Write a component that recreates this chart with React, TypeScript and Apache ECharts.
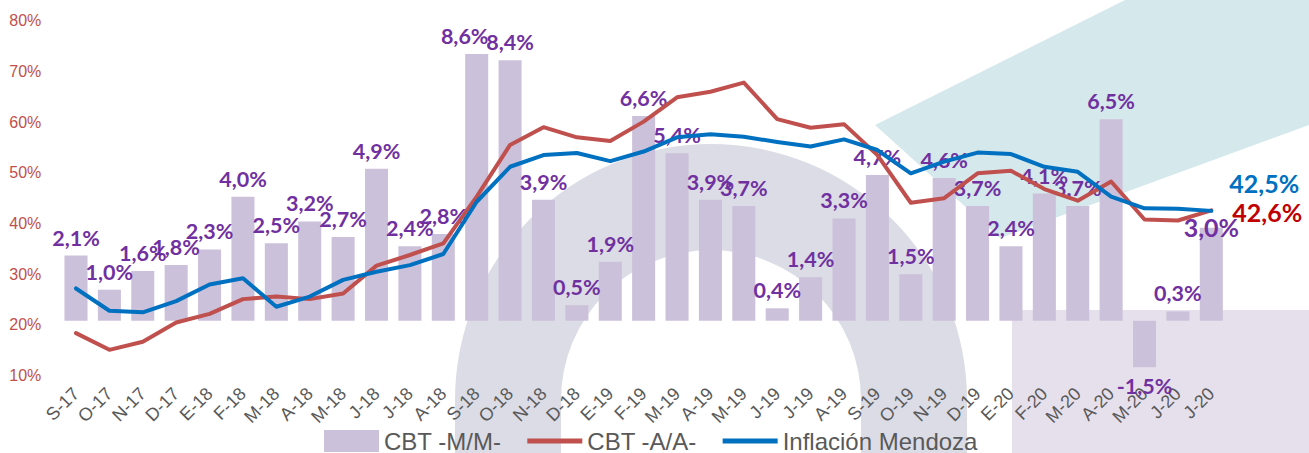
import React, { useEffect, useRef } from "react";
import * as echarts from "echarts";

const categories = ["S-17","O-17","N-17","D-17","E-18","F-18","M-18","A-18","M-18","J-18","J-18","A-18","S-18","O-18","N-18","D-18","E-19","F-19","M-19","A-19","M-19","J-19","J-19","A-19","S-19","O-19","N-19","D-19","E-20","F-20","M-20","A-20","M-20","J-20","J-20"];
const cbtMM = [2.1,1.0,1.6,1.8,2.3,4.0,2.5,3.2,2.7,4.9,2.4,2.8,8.6,8.4,3.9,0.5,1.9,6.6,5.4,3.9,3.7,0.4,1.4,3.3,4.7,1.5,4.6,3.7,2.4,4.1,3.7,6.5,-1.5,0.3,3.0];
const cbtAA = [18.4,15.1,16.7,20.5,22.2,25.1,25.6,25.1,26.2,31.7,33.8,36.1,45.3,55.5,59.0,57.0,56.3,60.1,64.9,66.0,67.8,60.6,58.9,59.6,53.5,44.1,45.0,49.9,50.4,46.8,44.5,48.3,40.8,40.6,42.6];
const inflacion = [27.2,22.8,22.5,24.7,28.0,29.2,23.6,25.6,28.9,30.5,31.8,34.0,44.3,51.2,53.5,53.9,52.3,54.2,57.0,57.6,57.1,56.1,55.2,56.6,54.5,49.9,52.2,54.0,53.7,51.2,50.2,45.3,43.0,42.9,42.5];
const leftTicks = [10, 80, 10];

const fmt = (v: number) => v.toFixed(1).replace(".", ",") + "%";

export default function App() {
  const ref = useRef<HTMLDivElement>(null);
  useEffect(() => {
    if (!ref.current) return;
    const chart = echarts.init(ref.current, null, { renderer: "svg" });
    const last = cbtMM.length - 1;
    const barData = cbtMM.map((v, i) => {
      if (i === last) {
        return {
          value: v,
          label: { position: "top", distance: 0, offset: [0, 12], fontSize: 25 },
        };
      }
      if (i === 12) return { value: v, label: { offset: [-12, 0] } };
      if (v < 0) return { value: v, label: { position: "bottom", distance: 8 } };
      return v;
    });
    const endLabelBase = {
      show: true,
      fontFamily: "Lato",
      fontWeight: "bold",
      fontSize: 25,
    };
    const lineIcon = "path://M0,0H55V5H0Z";
    chart.setOption({
      animation: false,
      graphic: {
        elements: [
          {
            type: "sector",
            z: 0,
            shape: { cx: 711, cy: 400, r0: 150, r: 256, startAngle: Math.PI, endAngle: 2 * Math.PI },
            style: { fill: "#DBDCE5" },
          },
          { type: "rect", z: 0, shape: { x: 455, y: 399, width: 106, height: 60 }, style: { fill: "#DBDCE5" } },
          { type: "rect", z: 0, shape: { x: 861, y: 399, width: 106, height: 60 }, style: { fill: "#DBDCE5" } },
          {
            type: "polygon",
            z: 0,
            shape: { points: [[875, 125], [1125, 0], [1309, 0], [1309, 125], [1000, 238]] },
            style: { fill: "#D5E8EC" },
          },
          { type: "rect", z: 0, shape: { x: 1012, y: 310, width: 297, height: 143 }, style: { fill: "#E6E0EC" } },
        ],
      },
      grid: { left: 59.3, right: 81, top: 20.7, bottom: 77.3, containLabel: false },
      legend: {
        left: 319,
        top: 424,
        itemWidth: 55,
        itemHeight: 22,
        itemGap: 26,
        textStyle: { fontFamily: "Liberation Sans", fontSize: 24, color: "#595959" },
        data: [
          { name: "CBT -M/M-", icon: "rect" },
          { name: "CBT -A/A-", icon: lineIcon },
          { name: "Inflación Mendoza", icon: lineIcon },
        ],
      },
      xAxis: {
        type: "category",
        data: categories,
        boundaryGap: true,
        axisLine: { show: false },
        axisTick: { show: false },
        axisLabel: {
          rotate: 45,
          interval: 0,
          margin: 15,
          fontFamily: "Liberation Sans",
          fontSize: 18,
          color: "#595959",
        },
      },
      yAxis: [
        {
          type: "value",
          min: leftTicks[0],
          max: leftTicks[1],
          interval: leftTicks[2],
          splitLine: { show: false },
          axisLine: { show: false },
          axisTick: { show: false },
          axisLabel: {
            formatter: "{value}%",
            margin: 18,
            fontFamily: "Liberation Sans",
            fontSize: 16,
            color: "#C0504D",
          },
        },
        {
          type: "value",
          min: -1.774,
          max: 9.677,
          show: false,
          splitLine: { show: false },
        },
      ],
      series: [
        {
          name: "CBT -M/M-",
          type: "bar",
          yAxisIndex: 1,
          barWidth: "69%",
          data: barData,
          itemStyle: { color: "#CCC1DA" },
          label: {
            show: true,
            position: "top",
            distance: 7,
            formatter: (p: any) => fmt(p.value),
            color: "#7030A0",
            fontFamily: "Lato",
            fontWeight: "bold",
            fontSize: 21.5,
          },
          z: 2,
        },
        {
          name: "CBT -A/A-",
          type: "line",
          yAxisIndex: 0,
          data: cbtAA,
          symbol: "none",
          showSymbol: false,
          lineStyle: { color: "#C0504D", width: 4, cap: "round", join: "round" },
          itemStyle: { color: "#C0504D" },
          endLabel: {
            ...endLabelBase,
            color: "#C00000",
            distance: 21,
            offset: [0, 2],
            formatter: () => fmt(cbtAA[last]),
          },
          z: 3,
        },
        {
          name: "Inflación Mendoza",
          type: "line",
          yAxisIndex: 0,
          data: inflacion,
          symbol: "none",
          showSymbol: false,
          lineStyle: { color: "#0070C0", width: 4, cap: "round", join: "round" },
          itemStyle: { color: "#0070C0" },
          endLabel: {
            ...endLabelBase,
            color: "#0070C0",
            distance: 18,
            offset: [0, -28],
            formatter: () => fmt(inflacion[last]),
          },
          z: 4,
        },
      ],
    });
    return () => chart.dispose();
  }, []);
  return (
    <div
      ref={ref}
      style={{ position: "fixed", left: 0, top: 0, width: 1309, height: 453, background: "#ffffff" }}
    />
  );
}
